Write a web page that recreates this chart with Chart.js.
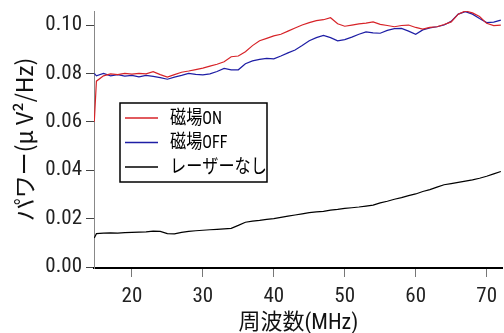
<!DOCTYPE html>
<html>
<head>
<meta charset="utf-8">
<script src="https://cdn.jsdelivr.net/npm/chart.js@4/dist/chart.umd.min.js"></script>
<style>
html,body{margin:0;padding:0;background:#fff;}
#wrap{width:504px;height:333px;position:relative;}
</style>
</head>
<body>
<div id="wrap"><canvas id="c" width="504" height="333"></canvas></div>
<script>
const freq = [14.7,15,16,17,18,19,20,21,22,23,24,25,26,27,28,29,30,31,32,33,34,35,36,37,38,39,40,41,42,43,44,45,46,47,48,49,50,51,52,53,54,55,56,57,58,59,60,61,62,63,64,65,66,67,68,69,70,71,72];
const fieldOn = [0.0600,0.0768,0.0790,0.0798,0.0795,0.0800,0.0797,0.0800,0.0798,0.0807,0.0795,0.0785,0.0795,0.0805,0.0810,0.0816,0.0822,0.0830,0.0838,0.0848,0.0869,0.0872,0.0890,0.0915,0.0935,0.0945,0.0955,0.0962,0.0975,0.0988,0.1000,0.1010,0.1018,0.1022,0.1030,0.1005,0.0995,0.1000,0.1005,0.1008,0.1013,0.1003,0.0998,0.0993,0.0998,0.1000,0.0990,0.0983,0.0990,0.0993,0.1002,0.1013,0.1045,0.1058,0.1050,0.1035,0.1007,0.0998,0.1000];
const fieldOff = [0.0800,0.0790,0.0800,0.0790,0.0795,0.0789,0.0792,0.0786,0.0792,0.0788,0.0783,0.0776,0.0785,0.0792,0.0800,0.0796,0.0794,0.0798,0.0808,0.0821,0.0815,0.0815,0.0840,0.0852,0.0858,0.0862,0.0860,0.0872,0.0885,0.0897,0.0915,0.0935,0.0948,0.0957,0.0948,0.0935,0.0940,0.0950,0.0962,0.0972,0.0968,0.0966,0.0978,0.0985,0.0986,0.0975,0.0962,0.0980,0.0988,0.0993,0.1000,0.1015,0.1045,0.1055,0.1045,0.1027,0.1010,0.1012,0.1020];
const noLaser = [0.0120,0.0138,0.0140,0.0141,0.0140,0.0142,0.0143,0.0144,0.0145,0.0148,0.0147,0.0138,0.0137,0.0143,0.0147,0.0150,0.0152,0.0154,0.0156,0.0158,0.0160,0.0172,0.0185,0.0190,0.0193,0.0197,0.0200,0.0205,0.0210,0.0215,0.0220,0.0225,0.0228,0.0230,0.0235,0.0238,0.0242,0.0245,0.0248,0.0252,0.0256,0.0265,0.0272,0.0280,0.0287,0.0295,0.0302,0.0312,0.0320,0.0330,0.0340,0.0345,0.0350,0.0355,0.0360,0.0367,0.0375,0.0385,0.0395];
const seriesNames = ['磁場ON','磁場OFF','レーザーなし'];
const xTicks = [20,30,40,50,60,70];
const yTicks = [0,0.02,0.04,0.06,0.08,0.10];
const xTitle = '周波数(MHz)';
const yTitle = 'パワー(μ V²/Hz)';

const FAM = '"Roboto Condensed", "Noto Sans CJK JP", sans-serif';
const CJK = '"Noto Sans CJK JP", sans-serif';
const pts = arr => arr.map((v,i)=>({x:freq[i], y:v}));

const legendBox = {
  id:'legendBox',
  afterDatasetsDraw(chart){
    const ctx = chart.ctx;
    const x0=120, y0=103, w=147, h=79;
    ctx.save();
    ctx.fillStyle='#fff';
    ctx.fillRect(x0,y0,w,h);
    ctx.strokeStyle='#000'; ctx.lineWidth=1.5;
    ctx.strokeRect(x0,y0,w,h);
    ctx.textBaseline='middle';
    chart.data.datasets.forEach((ds,i)=>{
      const yy = y0+15+i*24.5;
      ctx.strokeStyle=ds.borderColor; ctx.lineWidth=1.3;
      ctx.beginPath(); ctx.moveTo(125,yy); ctx.lineTo(158,yy); ctx.stroke();
      ctx.save();
      ctx.translate(170,yy);
      ctx.scale(0.85,1);
      ctx.fillStyle='#000';
      ctx.font='19px '+FAM;
      ctx.fillText(ds.label,0,1);
      ctx.restore();
    });
    ctx.restore();
  }
};

new Chart(document.getElementById('c'),{
  type:'line',
  data:{datasets:[
    {label:seriesNames[0],data:pts(fieldOn),borderColor:'rgb(215,35,40)',borderWidth:1.2,pointRadius:0,tension:0},
    {label:seriesNames[1],data:pts(fieldOff),borderColor:'rgb(30,30,165)',borderWidth:1.2,pointRadius:0,tension:0},
    {label:seriesNames[2],data:pts(noLaser),borderColor:'#000',borderWidth:1.2,pointRadius:0,tension:0}
  ]},
  options:{
    responsive:false, animation:false, devicePixelRatio:1,
    layout:{padding:{top:11,left:0,right:0,bottom:0}},
    plugins:{legend:{display:false},tooltip:{enabled:false}},
    scales:{
      x:{type:'linear',min:14.66,max:72.25,
        afterBuildTicks:s=>{s.ticks=xTicks.map(v=>({value:v}));},
        afterFit:s=>{s.height=65;},
        border:{color:'#000',width:2},
        grid:{drawOnChartArea:false,drawTicks:true,tickLength:9,tickColor:'#777',tickWidth:1},
        ticks:{color:'#222',font:{family:FAM,size:21},padding:7,maxRotation:0,autoSkip:false},
        title:{display:true,text:xTitle,color:'#111',font:{family:FAM,size:22,lineHeight:0.85},padding:{top:0,bottom:0}}
      },
      y:{type:'linear',min:-0.0004,max:0.1058,
        afterBuildTicks:s=>{s.ticks=yTicks.map(v=>({value:v}));},
        afterFit:s=>{s.width=94;},
        border:{color:'#888',width:1},
        grid:{drawOnChartArea:false,drawTicks:true,tickLength:8,tickColor:'#444',tickWidth:1},
        ticks:{color:'#222',font:{family:FAM,size:21,lineHeight:0.6},padding:4,callback:v=>v.toFixed(2)},
        title:{display:true,text:yTitle,color:'#111',font:{family:CJK,size:23},padding:{top:10,bottom:0}}
      }
    }
  },
  plugins:[legendBox]
});
</script>
</body>
</html>
